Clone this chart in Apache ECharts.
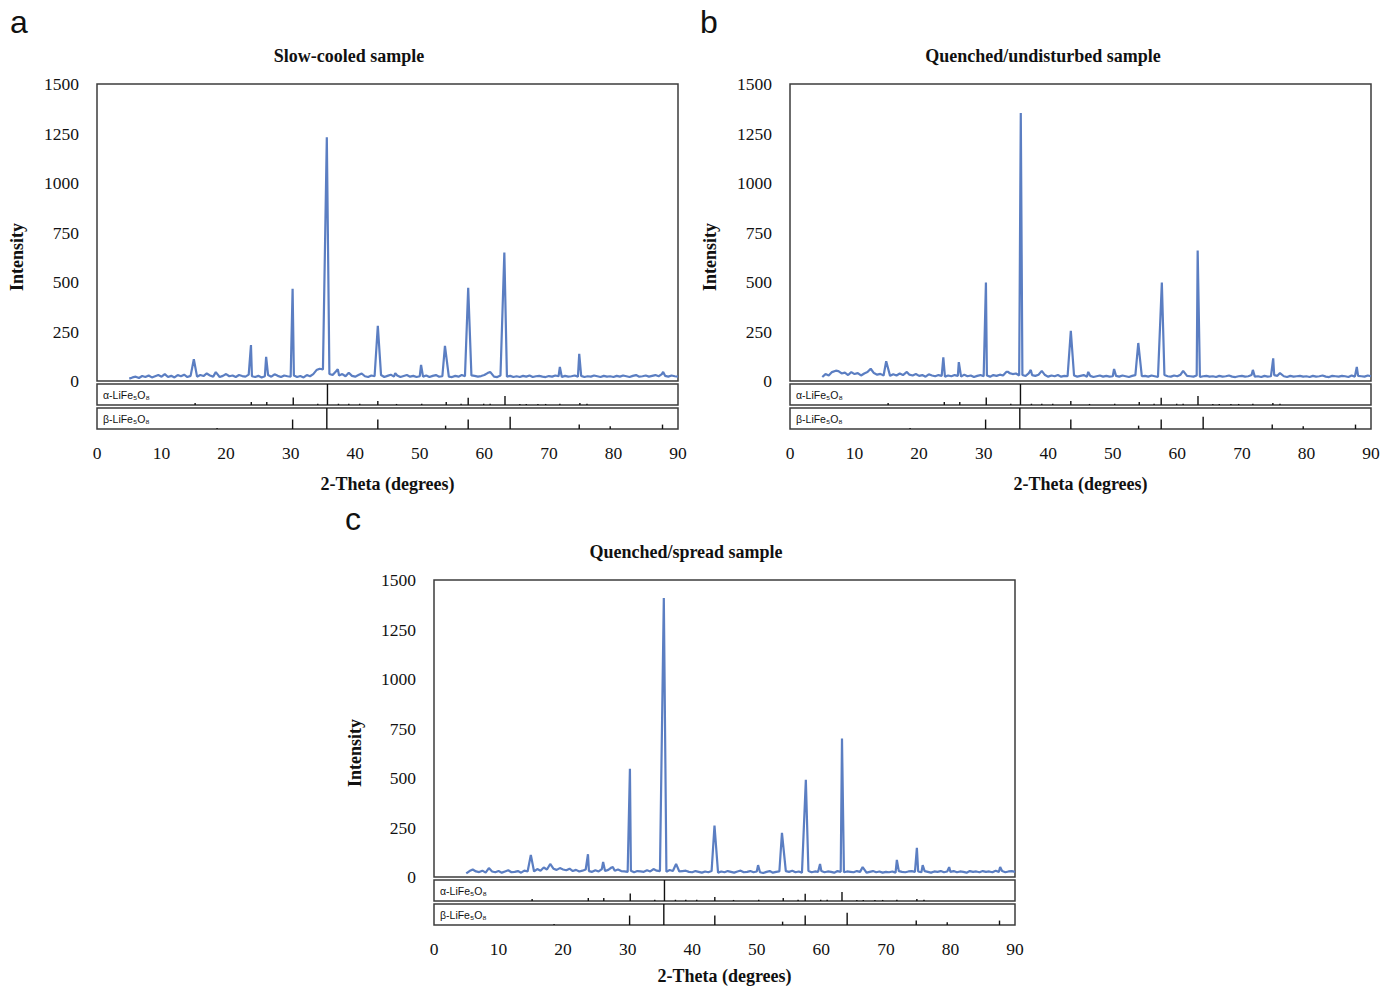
<!DOCTYPE html>
<html>
<head>
<meta charset="utf-8">
<script src="https://cdn.jsdelivr.net/npm/echarts@6/dist/echarts.min.js"></script>
<style>
html,body{margin:0;padding:0;background:#fff;}
#chart{width:1384px;height:987px;}
</style>
</head>
<body>
<div id="chart"></div>
<script>
// ---------- DATA ----------
const twoThetaStart = 5;
const twoThetaStep = 0.5;
const xTicks = [0, 10, 20, 30, 40, 50, 60, 70, 80, 90];
const yTicks = [0, 250, 500, 750, 1000, 1250, 1500];

const panelTitles = ['Slow-cooled sample', 'Quenched/undisturbed sample', 'Quenched/spread sample'];
const panelLetters = ['a', 'b', 'c'];
const phaseNames = ['α-LiFe₅O₈', 'β-LiFe₅O₈'];

// background (5..90 deg, every 0.5 deg)
const baselineA = [
  12,18,22,15,25,20,28,18,24,30,
  22,35,20,26,18,30,24,32,20,26,
  28,22,30,25,38,28,22,30,20,26,
  35,24,28,20,30,25,22,32,24,20,
  26,18,24,30,22,34,26,20,28,24,
  22,28,20,25,18,30,24,35,55,62,
  58,40,35,30,48,28,35,24,42,26,
  22,30,38,24,20,28,24,22,30,20,
  26,32,22,28,20,25,30,22,26,20,
  24,22,28,20,26,30,22,24,28,22,
  20,26,22,30,24,20,28,26,22,25,
  30,40,24,22,20,28,24,22,26,20,
  24,20,26,22,28,20,24,26,22,20,
  25,22,28,24,20,26,22,24,28,22,
  26,20,24,22,28,24,20,26,22,24,
  20,26,22,28,24,20,26,30,22,24,
  28,22,26,30,24,35,26,22,28,24,
  22
];
const baselineB = [
  20,35,28,45,30,50,38,42,30,45,
  35,40,28,38,45,30,40,32,36,28,
  30,26,34,28,38,30,24,32,28,35,
  26,30,22,34,28,24,30,26,22,28,
  24,30,26,22,32,24,28,20,26,30,
  24,28,22,30,26,32,28,46,40,35,
  38,28,30,25,40,30,26,32,24,30,
  22,28,24,30,22,26,24,20,28,22,
  26,30,22,26,20,24,28,22,26,22,
  24,26,22,28,24,20,26,30,22,24,
  26,22,28,24,20,26,30,24,22,28,
  24,32,22,26,24,22,28,20,24,26,
  22,24,20,26,22,24,28,22,20,24,
  26,22,24,30,22,24,20,26,22,24,
  30,26,22,24,20,26,22,24,26,22,
  24,20,26,22,24,28,22,20,26,24,
  22,26,24,20,28,22,26,24,22,28,
  24
];
const baselineC = [
  18,30,38,28,25,32,22,40,28,24,
  30,22,28,34,24,26,30,22,32,28,
  35,28,40,32,48,38,52,42,36,45,
  38,34,42,30,36,28,32,38,30,26,
  34,28,40,30,36,48,32,38,30,28,
  26,32,24,30,28,26,34,28,40,32,
  30,28,26,35,30,24,28,30,32,26,
  24,30,26,22,28,24,30,26,22,28,
  24,30,26,22,28,32,24,26,30,24,
  28,24,20,26,30,22,26,28,24,30,
  26,32,24,28,22,26,30,24,28,26,
  30,24,28,26,22,30,26,24,28,26,
  24,30,26,28,22,26,30,24,28,22,
  26,24,28,22,30,26,24,28,30,26,
  28,24,30,26,22,28,26,30,24,28,
  26,30,24,28,26,22,30,26,28,24,
  30,26,28,24,32,26,30,24,28,30,
  26
];

// diffraction peaks [2-theta, intensity]
const peaksA = [[15.0,110],[18.4,45],[23.85,182],[26.2,122],[30.3,466],[35.6,1231],[37.3,60],
  [43.5,279],[46.2,40],[50.2,81],[53.9,177],[57.5,471],[60.9,46],[63.1,649],[71.7,71],[74.7,137],[87.7,46]];
const peaksB = [[7.1,52],[12.5,62],[14.9,100],[18.1,46],[23.75,120],[26.15,95],[30.35,497],[33.8,46],
  [35.75,1353],[37.3,56],[39.0,51],[43.5,253],[46.2,46],[50.2,61],[53.95,192],[57.6,497],[60.9,51],
  [63.15,659],[71.7,56],[74.85,114],[75.9,40],[87.8,71]];
const peaksC = [[8.5,45],[15.0,111],[18.0,66],[23.85,115],[26.2,76],[27.7,50],[30.35,547],[35.6,1409],
  [37.5,66],[43.45,260],[50.2,60],[53.9,223],[57.6,491],[59.8,66],[63.2,700],[66.4,50],[71.7,86],
  [74.8,147],[75.7,60],[79.8,50],[87.7,50]];

// reference stick patterns [2-theta, relative intensity]
const alphaRef = [[15.2,9],[23.9,14],[26.3,14],[30.4,36],[34.2,6],[35.7,100],[37.4,6],[39.0,6],[40.7,6],
  [43.5,19],[46.4,5],[50.3,6],[54.1,14],[56.4,6],[57.5,34],[59.9,6],[60.9,6],[63.2,43],[65.5,5],
  [66.5,5],[68.3,5],[69.5,5],[71.7,6],[74.8,10],[75.9,6]];
const betaRef = [[18.6,5],[30.3,45],[35.6,100],[43.5,45],[54.0,16],[57.5,45],[64.0,58],[74.7,21],
  [79.5,13],[87.6,21]];

// ---------- BUILD ----------
function buildTrace(baseline, peaks) {
  const pts = baseline.map((v, i) => [twoThetaStart + i * twoThetaStep, v]);
  const kept = pts.filter(p => !peaks.some(pk => Math.abs(pk[0] - p[0]) < 0.12));
  return kept.concat(peaks).sort((a, b) => a[0] - b[0]);
}
const traces = [buildTrace(baselineA, peaksA), buildTrace(baselineB, peaksB), buildTrace(baselineC, peaksC)];

const layout = [
  {left: 97, mainTop: 84, letterX: 10, letterY: 22, titleX: 349, ylabX: 17, xlabDy: 55},
  {left: 790, mainTop: 84, letterX: 700, letterY: 22, titleX: 1043, ylabX: 710, xlabDy: 55},
  {left: 434, mainTop: 580, letterX: 345, letterY: 519, titleX: 686, ylabX: 355, xlabDy: 51}
];
const W = 581, MAINH = 297, STRIPH = 21;

const serif = '"Liberation Serif","Times New Roman",serif';
const sans = '"Liberation Sans","DejaVu Sans",Arial,sans-serif';
const blue = '#5b7ec2';
const frame = '#3c3c3c';

const grids = [], xAxes = [], yAxes = [], series = [], graphics = [];

layout.forEach((L, p) => {
  const alphaTop = L.mainTop + MAINH + 3;
  const betaTop = alphaTop + STRIPH + 3;
  const gi = grids.length;
  const gridStyle = {show: true, borderColor: frame, borderWidth: 1.5, backgroundColor: '#fff'};
  grids.push(Object.assign({left: L.left, top: L.mainTop, width: W, height: MAINH}, gridStyle));
  grids.push(Object.assign({left: L.left, top: alphaTop, width: W, height: STRIPH}, gridStyle));
  grids.push(Object.assign({left: L.left, top: betaTop, width: W, height: STRIPH}, gridStyle));

  for (let k = 0; k < 3; k++) {
    xAxes.push({
      gridIndex: gi + k, type: 'value', min: xTicks[0], max: xTicks[xTicks.length - 1], interval: 10,
      show: k === 2,
      axisLine: {show: false}, axisTick: {show: false}, splitLine: {show: false},
      axisLabel: {show: k === 2, margin: 15, color: '#111', fontFamily: serif, fontSize: 17.5,
        formatter: v => String(v)}
    });
  }
  yAxes.push({
    gridIndex: gi, type: 'value', min: yTicks[0], max: yTicks[yTicks.length - 1], interval: 250,
    axisLine: {show: false}, axisTick: {show: false}, splitLine: {show: false},
    axisLabel: {margin: 18, color: '#111', fontFamily: serif, fontSize: 17.5, formatter: v => String(v)}
  });
  yAxes.push({gridIndex: gi + 1, type: 'value', min: 0, max: 100, show: false, splitLine: {show: false}});
  yAxes.push({gridIndex: gi + 2, type: 'value', min: 0, max: 100, show: false, splitLine: {show: false}});

  series.push({
    type: 'line', xAxisIndex: gi, yAxisIndex: gi, data: traces[p],
    showSymbol: false, symbol: 'none', silent: true, animation: false,
    lineStyle: {color: blue, width: 2.2}, z: 3
  });
  series.push({
    type: 'bar', xAxisIndex: gi + 1, yAxisIndex: gi + 1, data: alphaRef, barWidth: 1.4,
    itemStyle: {color: '#111'}, silent: true, animation: false
  });
  series.push({
    type: 'bar', xAxisIndex: gi + 2, yAxisIndex: gi + 2, data: betaRef, barWidth: 1.4,
    itemStyle: {color: '#111'}, silent: true, animation: false
  });

  const cx = L.left + W / 2;
  graphics.push({type: 'text', style: {x: L.letterX, y: L.letterY, text: panelLetters[p],
    font: '32px ' + sans, fill: '#111', textAlign: 'left', textVerticalAlign: 'middle'}});
  graphics.push({type: 'text', style: {x: L.titleX, y: L.mainTop - 28, text: panelTitles[p],
    font: 'bold 18px ' + serif, fill: '#111', textAlign: 'center', textVerticalAlign: 'middle'}});
  graphics.push({type: 'text', x: L.ylabX, y: L.mainTop + 173, rotation: Math.PI / 2,
    style: {x: 0, y: 0, text: 'Intensity', font: 'bold 18px ' + serif, fill: '#111',
    textAlign: 'center', textVerticalAlign: 'middle'}});
  graphics.push({type: 'text', style: {x: cx, y: betaTop + STRIPH + L.xlabDy, text: '2-Theta (degrees)',
    font: 'bold 18px ' + serif, fill: '#111', textAlign: 'center', textVerticalAlign: 'middle'}});
  graphics.push({type: 'text', z: 10, style: {x: L.left + 6, y: alphaTop + 11, text: phaseNames[0],
    font: '10.5px ' + sans, fill: '#111', textAlign: 'left', textVerticalAlign: 'middle'}});
  graphics.push({type: 'text', z: 10, style: {x: L.left + 6, y: betaTop + 11, text: phaseNames[1],
    font: '10.5px ' + sans, fill: '#111', textAlign: 'left', textVerticalAlign: 'middle'}});
});

const chart = echarts.init(document.getElementById('chart'), null, {renderer: 'svg'});
chart.setOption({
  backgroundColor: '#fff',
  animation: false,
  grid: grids,
  xAxis: xAxes,
  yAxis: yAxes,
  series: series,
  graphic: graphics
});
</script>
</body>
</html>
